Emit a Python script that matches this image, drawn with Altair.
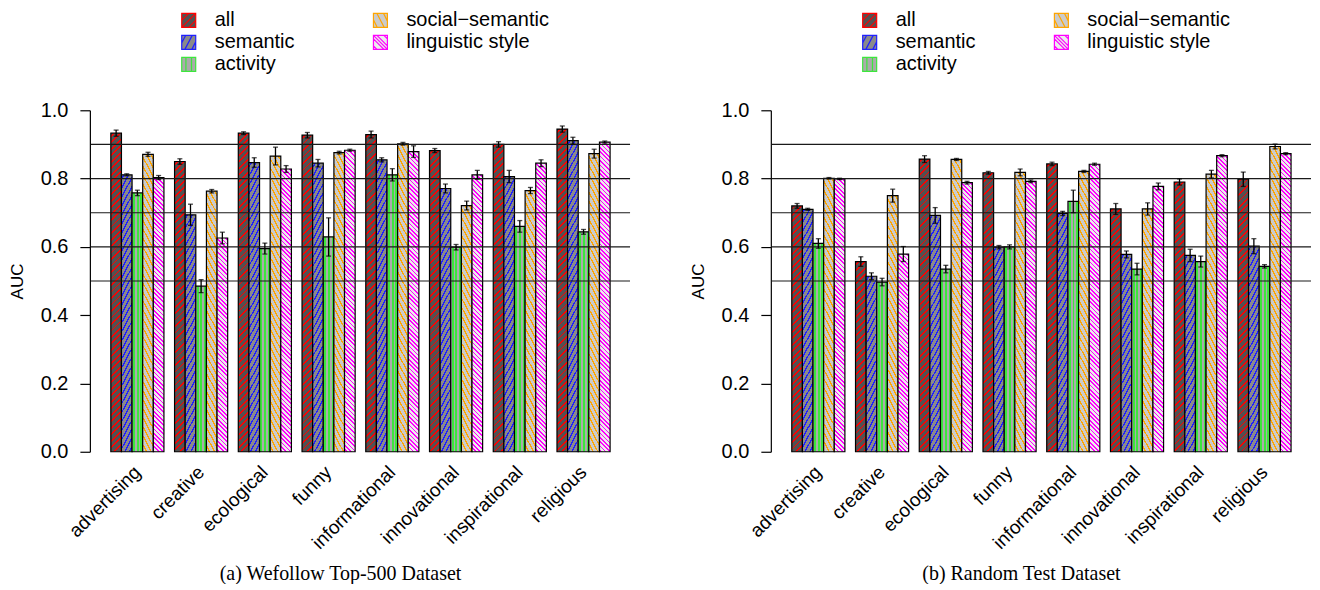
import math
import altair as alt

# ---------------- data ----------------
categories = ["advertising", "creative", "ecological", "funny",
              "informational", "innovational", "inspirational", "religious"]
series = ["all", "semantic", "activity", "social\u2212semantic", "linguistic style"]
ref_lines = [0.5, 0.6, 0.7, 0.8, 0.9]
y_ticks = [0.0, 0.2, 0.4, 0.6, 0.8, 1.0]

# (a) Wefollow Top-500 dataset
a_all = [0.933, 0.850, 0.933, 0.927, 0.929, 0.882, 0.900, 0.945]
a_semantic = [0.811, 0.694, 0.847, 0.845, 0.855, 0.771, 0.806, 0.911]
a_activity = [0.758, 0.485, 0.595, 0.629, 0.811, 0.599, 0.660, 0.644]
a_social = [0.871, 0.763, 0.866, 0.876, 0.902, 0.721, 0.765, 0.873]
a_ling = [0.803, 0.626, 0.828, 0.883, 0.879, 0.811, 0.845, 0.907]
a_all_err = [0.009, 0.008, 0.004, 0.008, 0.010, 0.006, 0.008, 0.009]
a_semantic_err = [0.003, 0.031, 0.014, 0.011, 0.006, 0.013, 0.018, 0.010]
a_activity_err = [0.008, 0.019, 0.016, 0.056, 0.018, 0.008, 0.017, 0.007]
a_social_err = [0.006, 0.005, 0.026, 0.004, 0.004, 0.013, 0.009, 0.013]
a_ling_err = [0.006, 0.017, 0.010, 0.003, 0.017, 0.013, 0.010, 0.003]

# (b) Random test dataset
b_all = [0.720, 0.557, 0.857, 0.817, 0.843, 0.711, 0.790, 0.798]
b_semantic = [0.710, 0.514, 0.692, 0.599, 0.698, 0.578, 0.575, 0.602]
b_activity = [0.610, 0.497, 0.535, 0.600, 0.733, 0.535, 0.557, 0.543]
b_social = [0.801, 0.750, 0.856, 0.818, 0.821, 0.711, 0.813, 0.894]
b_ling = [0.799, 0.579, 0.788, 0.792, 0.842, 0.777, 0.867, 0.873]
b_all_err = [0.007, 0.014, 0.010, 0.004, 0.005, 0.016, 0.009, 0.021]
b_semantic_err = [0.003, 0.010, 0.023, 0.005, 0.006, 0.010, 0.018, 0.022]
b_activity_err = [0.014, 0.011, 0.011, 0.006, 0.033, 0.017, 0.016, 0.005]
b_social_err = [0.002, 0.019, 0.003, 0.010, 0.003, 0.018, 0.011, 0.007]
b_ling_err = [0.002, 0.022, 0.004, 0.004, 0.003, 0.010, 0.003, 0.003]

# ---------------- style ----------------
FONT = "Liberation Sans"
W, H = 540, 342
P_IN, P_OUT = 1 / 6, 0.313
step = W / (len(categories) - P_IN + 2 * P_OUT)
bar_w = step * (1 - P_IN) / len(series)

hatch = {
    "all": dict(kind="/", angle=45, gap=6.5, lw=1.3, line="#ff0000", base="#525252"),
    "semantic": dict(kind="/", angle=62, gap=9.0, lw=1.3, line="#1f1fff", base="#8a8a8a"),
    "activity": dict(kind="|", angle=90, gap=3.7, lw=1.9, line="#3ce63c", base="#ababab"),
    "social\u2212semantic": dict(kind="\\", angle=62, gap=9.0, lw=1.3, line="#ffa500", base="#cbcbcb"),
    "linguistic style": dict(kind="\\", angle=45, gap=4.4, lw=1.2, line="#ff00ff", base="#ececec"),
}
legend_paths = {
    "all": "M-1,-1H1V1H-1Z M-1,0L0,-1 M-1,1L1,-1 M0,1L1,0",
    "semantic": "M-1,-1H1V1H-1Z M-1,0.1L-0.45,-1 M-0.55,1L0.5,-1 M0.45,1L1,-0.1",
    "activity": "M-1,-1H1V1H-1Z M-0.4,-1V1 M0.4,-1V1",
    "social\u2212semantic": "M-1,-1H1V1H-1Z M1,0.1L0.45,-1 M0.55,1L-0.5,-1 M-0.45,1L-1,-0.1",
    "linguistic style": "M-1,-1H1V1H-1Z M-1,-0.5L0.5,1 M-1,0.5L-0.5,1 M-0.5,-1L1,0.5 M0.5,-1L1,-0.5 M-1,-1L1,1",
}


def gradient(name, value):
    hs = hatch[name]
    w = bar_w
    h = max(value * H, 1.0)
    if hs["kind"] == "|":
        L, P = w, hs["gap"]
        coords = dict(x1=0, y1=0, x2=1, y2=0)
    else:
        th = math.radians(hs["angle"])
        s, c = math.sin(th), math.cos(th)
        L = w * s + h * c
        P = hs["gap"] * c
        A, B = w * s / L, h * c / L
        D = A * A + B * B
        if hs["kind"] == "/":
            coords = dict(x1=0, y1=0, x2=round(A / D, 5), y2=round(B / D, 5))
        else:
            coords = dict(x1=1, y1=0, x2=round(1 - A / D, 5), y2=round(B / D, 5))
    lw = hs["lw"]
    stops = [{"offset": 0, "color": hs["base"]}]
    center = P / 2
    while center - lw / 2 < L:
        a = round(max(center - lw / 2, 0) / L, 4)
        b = round(min(center + lw / 2, L) / L, 4)
        stops += [{"offset": a, "color": hs["base"]}, {"offset": a, "color": hs["line"]},
                  {"offset": b, "color": hs["line"]}, {"offset": b, "color": hs["base"]}]
        center += P
    stops.append({"offset": 1, "color": hs["base"]})
    return dict(gradient="linear", stops=stops, **coords)


def records(vals, errs):
    recs = []
    for s, v_list, e_list in zip(series, vals, errs):
        for cat, v, e in zip(categories, v_list, e_list):
            recs.append({"cat": cat, "series": s, "value": v,
                         "lo": round(v - e, 4), "hi": round(v + e, 4),
                         "grad": gradient(s, v)})
    return recs


def panel(vals, errs, caption):
    data = alt.Data(values=records(vals, errs))
    x = alt.X("cat:N", sort=categories,
              scale=alt.Scale(paddingInner=P_IN, paddingOuter=P_OUT),
              axis=alt.Axis(title=None, labelAngle=-45, labelAlign="right",
                            labelBaseline="middle", labelFont=FONT, labelFontSize=19,
                            labelColor="black", labelPadding=17, domain=False,
                            ticks=False))
    xo = alt.XOffset("series:N", sort=series,
                     scale=alt.Scale(paddingInner=0, paddingOuter=0))
    yaxis = alt.Axis(title="AUC", titleFont=FONT, titleFontSize=17,
                     titleFontWeight="normal", titleColor="black", titlePadding=14,
                     values=y_ticks, format=".1f", labelFont=FONT, labelFontSize=20,
                     labelColor="black", labelPadding=12, tickSize=10,
                     tickColor="black", tickWidth=1.2, domainColor="black",
                     domainWidth=1.2, grid=False, offset=1)
    yscale = alt.Scale(domain=[0, 1], nice=False, zero=True)

    bars = alt.Chart(data).mark_bar(stroke="black", strokeWidth=1.2).encode(
        x=x, xOffset=xo,
        y=alt.Y("value:Q", scale=yscale, axis=yaxis),
        color=alt.Color("grad:N", scale=None),
    )
    lines = alt.Chart(alt.Data(values=[{"ref": r} for r in ref_lines])).mark_rule(
        color="#1a1a1a", strokeWidth=1.2).encode(
        y=alt.Y("ref:Q", scale=yscale, axis=yaxis))
    err = alt.Chart(data).mark_rule(color="black", strokeWidth=1.3).encode(
        x=x, xOffset=xo,
        y=alt.Y("lo:Q", scale=yscale, axis=yaxis), y2="hi:Q")
    cap_lo = alt.Chart(data).mark_tick(color="black", size=5, thickness=1.3,
                                       orient="horizontal").encode(
        x=x, xOffset=xo, y=alt.Y("lo:Q", scale=yscale, axis=yaxis))
    cap_hi = alt.Chart(data).mark_tick(color="black", size=5, thickness=1.3,
                                       orient="horizontal").encode(
        x=x, xOffset=xo, y=alt.Y("hi:Q", scale=yscale, axis=yaxis))

    leg = alt.Legend(title=None, orient="none", legendX=88, legendY=-100,
                     columns=2, columnPadding=75, rowPadding=2,
                     labelFont=FONT, labelFontSize=20, labelColor="black",
                     labelOffset=16, symbolSize=196, symbolStrokeWidth=1.2)
    key = alt.Chart(alt.Data(values=[{"series": s} for s in series])).transform_filter(
        "false").mark_point(filled=True, opacity=1, size=196, strokeWidth=1.2).encode(
        fill=alt.Fill("series:N", legend=leg, scale=alt.Scale(
            domain=series, range=[hatch[s]["base"] for s in series])),
        stroke=alt.Stroke("series:N", legend=leg, scale=alt.Scale(
            domain=series, range=[hatch[s]["line"] for s in series])),
        shape=alt.Shape("series:N", legend=leg, scale=alt.Scale(
            domain=series, range=[legend_paths[s] for s in series])),
    )
    return alt.layer(bars, lines, err, cap_lo, cap_hi, key).properties(
        width=W, height=H,
        title=alt.TitleParams(caption, orient="bottom", anchor="middle", frame="group",
                              font="Liberation Serif", fontSize=20, fontWeight="normal",
                              color="black", offset=11, dx=-20),
    )


pa = panel([a_all, a_semantic, a_activity, a_social, a_ling],
           [a_all_err, a_semantic_err, a_activity_err, a_social_err, a_ling_err],
           "(a) Wefollow Top-500 Dataset")
pb = panel([b_all, b_semantic, b_activity, b_social, b_ling],
           [b_all_err, b_semantic_err, b_activity_err, b_social_err, b_ling_err],
           "(b) Random Test Dataset")

chart = alt.hconcat(pa, pb, spacing=58).resolve_scale(
    fill="independent", stroke="independent", shape="independent"
).properties(padding={"top": 2, "left": 0, "right": 0, "bottom": 0}).configure_view(stroke=None)

chart.save("out.html", embed_options={"renderer": "svg", "actions": False})
